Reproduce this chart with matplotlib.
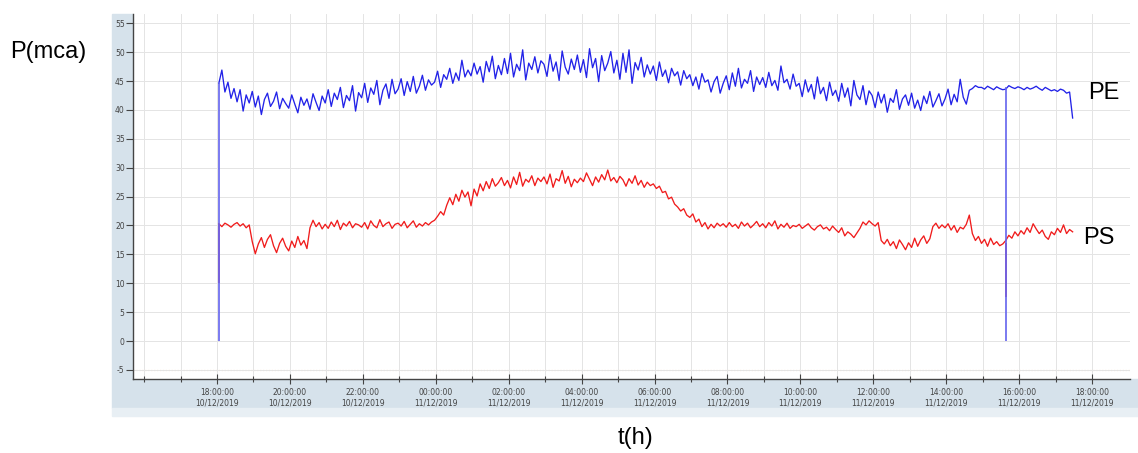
import pandas as pd
import matplotlib.pyplot as plt
import matplotlib.dates as mdates
from matplotlib.patches import Rectangle

plt.rcParams["axes.unicode_minus"] = False

# samples every 5 min from 18:03 on 10/12/2019
start = "2019-12-10 18:03"
step = "5min"

pe = [44.6, 46.9, 43.1, 44.8, 42.0, 43.7, 41.4, 43.5, 39.8, 42.6, 41.2,
      43.2, 40.5, 42.4, 39.2, 41.8, 42.9, 40.6, 41.5, 43.1, 40.2, 42.0, 41.1,
      40.3, 42.6, 41.0, 39.5, 42.2, 40.8, 41.9, 40.1, 42.8, 41.3, 39.9, 42.4,
      41.2, 43.5, 40.6, 42.9, 41.8, 43.9, 40.4, 42.5, 41.6, 44.2, 39.8, 43.0,
      42.1, 44.6, 41.3, 43.8, 42.7, 45.1, 40.9, 43.4, 44.5, 42.0, 45.3, 42.8,
      43.6, 45.4, 42.5, 44.9, 43.2, 45.8, 42.9, 44.1, 46.0, 43.4, 45.2, 44.3,
      44.8, 46.7, 43.9, 46.1, 45.3, 47.2, 44.6, 46.4, 45.1, 48.6, 45.7, 46.9,
      45.9, 48.1, 46.2, 47.5, 44.8, 48.4, 46.6, 49.3, 45.4, 47.7, 46.1, 48.9,
      46.3, 49.8, 45.7, 47.9, 46.8, 50.4, 45.2, 48.1, 47.0, 49.2, 46.4, 48.5,
      47.9, 45.8, 49.6, 46.7, 48.3, 45.1, 50.2, 47.4, 46.2, 48.8, 47.0, 49.5,
      46.5, 48.7, 45.6, 50.6, 47.3, 48.9, 44.9, 49.4, 46.8, 48.1, 50.1, 46.4,
      48.6, 45.3, 49.8, 46.5, 50.4, 44.6, 48.2, 46.9, 49.1, 45.7, 47.8, 46.2,
      47.6, 45.1, 48.3, 45.8, 46.9, 44.7, 47.2, 45.9, 46.6, 44.3, 46.8, 45.4,
      46.1, 44.2, 45.7, 43.6, 46.3, 44.8, 45.2, 43.1, 44.9, 45.8, 42.9, 44.6,
      45.9, 43.5, 46.4, 44.1, 47.2, 43.8, 45.3, 44.6, 46.8, 43.2, 45.7, 44.4,
      45.6, 43.9, 46.5, 44.2, 45.1, 43.4, 47.6, 44.7, 45.3, 43.6, 46.2, 44.1,
      44.6, 42.3, 45.2, 43.1, 44.4, 41.9, 45.7, 42.8, 43.9, 41.6, 44.8, 42.5,
      43.4, 41.5, 44.6, 42.2, 43.8, 40.7, 45.1, 42.6, 41.8, 44.2, 40.9, 43.3,
      42.5, 40.4, 43.1, 41.2, 42.7, 39.6, 42.0, 41.3, 43.5, 40.1, 41.9, 42.6,
      40.8, 42.9, 40.3, 41.7, 39.9, 42.4, 41.1, 43.2, 40.5, 41.6, 42.8, 40.7,
      41.9, 43.6, 40.9, 42.7, 41.4, 45.3, 42.2, 41.0, 43.4, 43.7, 44.2, 43.9,
      43.9, 43.6, 44.1, 43.8, 43.5, 44.0, 43.7, 43.5, 43.6, 44.2, 43.9, 43.7,
      44.0, 43.8, 43.5, 43.9, 43.6, 43.8, 44.1, 43.7, 43.4, 43.9, 43.6, 43.3,
      43.5, 43.2, 43.6, 43.4, 42.9, 43.1, 38.6]

ps = [20.3, 19.8, 20.4, 20.1, 19.7, 20.2, 20.5, 19.9, 20.3, 19.6, 20.1,
      17.2, 15.1, 16.8, 17.9, 16.2, 17.6, 18.4, 16.5, 15.3, 16.9, 17.8, 16.4,
      15.6, 17.3, 16.2, 18.1, 16.6, 17.4, 16.0, 19.6, 20.9, 19.8, 20.5, 19.4,
      20.2, 19.5, 20.6, 19.8, 20.9, 19.3, 20.4, 19.9, 20.7, 19.6, 20.3, 20.1,
      19.7, 20.5, 19.4, 20.8, 20.0, 19.6, 21.0, 19.8, 20.3, 20.6, 19.5, 20.2,
      20.4, 19.9, 20.7, 19.6, 20.2, 20.8, 19.7, 20.3, 19.9, 20.5, 20.1, 20.6,
      20.9, 21.6, 22.4, 21.8, 23.5, 24.8, 23.6, 25.4, 24.2, 26.1, 24.9, 25.8,
      23.4, 26.3, 25.1, 27.2, 26.0, 27.6, 26.4, 28.1, 26.8, 27.4, 28.3, 26.9,
      27.8, 26.5, 28.4, 27.1, 29.2, 26.8, 28.0, 27.5, 28.6, 26.9, 28.2, 27.6,
      28.4, 27.2, 28.9, 26.6, 28.1, 27.7, 29.5, 27.3, 28.5, 26.7, 28.0, 27.4,
      28.2, 27.6, 29.1, 28.0, 26.9, 28.4, 27.5, 28.8, 27.9, 29.6, 27.7, 28.3,
      27.4, 28.5, 27.9, 26.8, 28.1, 27.3, 28.6, 27.0, 27.8, 26.6, 27.5, 26.9,
      27.2, 26.4, 26.8, 25.7, 25.9, 24.6, 24.9, 23.7, 23.2, 22.5, 22.9, 21.8,
      21.4, 22.0, 20.6, 21.1, 19.8, 20.5, 19.4, 20.2, 19.6, 20.4, 19.9, 20.3,
      19.7, 20.5, 19.8, 20.2, 19.5, 20.6, 19.9, 20.4, 19.6, 20.1, 20.7, 19.8,
      20.3, 19.6, 20.5, 19.9, 20.8, 19.4, 20.2, 19.7, 20.4, 19.5, 20.0, 19.8,
      20.2, 19.5, 19.9, 20.3, 19.6, 19.2, 19.8, 20.1, 19.4, 19.7, 19.1, 19.9,
      19.3, 18.8, 19.6, 18.2, 18.9, 18.5, 17.9, 18.7, 19.5, 20.6, 20.1, 20.8,
      20.3, 19.9, 20.5, 17.4, 16.8, 17.6, 16.5, 17.2, 16.0, 17.5, 16.7, 15.8,
      17.0, 16.2, 17.8, 16.4, 17.5, 18.2, 16.9, 17.7, 19.8, 20.4, 19.5, 20.1,
      19.6, 20.3, 19.2, 20.0, 18.8, 19.7, 19.4, 20.2, 21.8, 18.6, 17.4, 18.1,
      16.9, 17.6, 16.4, 17.8, 16.7, 17.2, 16.5, 16.8, 17.4, 18.3, 17.8, 18.9,
      18.2, 19.1, 18.5, 19.6, 18.8, 20.3, 19.4, 18.6, 19.2, 18.1, 17.6, 18.9,
      18.4, 19.5, 18.8, 20.1, 18.6, 19.3, 18.9]

# the logger switch-on and the short outage in the afternoon
events = ["2019-12-10 18:03", "2019-12-11 15:38"]
pe_low = [0.0, 0.0]
ps_low = [10.0, 7.7]
pe_high = [44.6, 44.0]
ps_high = [20.3, 17.0]

times = pd.date_range(start, periods=len(pe), freq=step)
ev = pd.to_datetime(events)

W, H = 1138, 453
fig = plt.figure(figsize=(W / 100, H / 100), dpi=100)

# light blue axis panels of the logger software
panel = "#d6e2eb"
fig.add_artist(Rectangle((112 / W, 1 - 408 / H), (W - 112) / W, 29 / H,
                         transform=fig.transFigure, color=panel, zorder=0))
fig.add_artist(Rectangle((112 / W, 1 - 416 / H), (W - 112) / W, 8 / H,
                         transform=fig.transFigure, color="#e8eff4", zorder=0))
fig.add_artist(Rectangle((112 / W, 1 - 379 / H), 21 / W, 365 / H,
                         transform=fig.transFigure, color=panel, zorder=0))

ax = fig.add_axes([133 / W, 1 - 379 / H, (1130 - 133) / W, (379 - 14) / H])
ax.set_zorder(1)
ax.set_facecolor("white")

ax.plot(times, ps, color="#f01c1c", lw=0.95)
ax.vlines(ev, ps_low, ps_high, color="#c0306a", lw=1.2)
ax.plot(times, pe, color="#2222e8", lw=0.95)
ax.vlines(ev, pe_low, pe_high, color="#6464ee", lw=1.2)

x0 = pd.Timestamp("2019-12-10 18:00")
ax.set_xlim(x0 - pd.Timedelta(hours=2.304), x0 + pd.Timedelta(hours=25.04))
ax.set_ylim(-6.57, 56.6)

ax.set_xticks(pd.date_range(x0, periods=13, freq="2h"))
ax.set_xticks(pd.date_range(x0 - pd.Timedelta(hours=2), periods=27, freq="1h"), minor=True)
ax.xaxis.set_major_formatter(mdates.DateFormatter("%H:%M:%S\n%d/%m/%Y"))
ax.set_yticks(range(-5, 56, 5))

ax.grid(True, which="major", color="#e4e4e4", lw=0.7)
ax.grid(True, which="minor", axis="x", color="#e4e4e4", lw=0.7)
ax.axhline(-5, color="#f2b27a", ls=":", lw=0.8, zorder=0)

for s in ["top", "right"]:
    ax.spines[s].set_visible(False)
for s in ["left", "bottom"]:
    ax.spines[s].set_color("#444444")
    ax.spines[s].set_linewidth(1.0)

ax.tick_params(axis="y", direction="out", length=5, width=0.8, pad=1,
               labelsize=5.5, colors="#444444")
ax.tick_params(axis="x", which="major", direction="inout", length=7, width=0.8,
               pad=3, labelsize=5.5, colors="#444444")
ax.tick_params(axis="x", which="minor", direction="inout", length=4, width=0.8,
               colors="#444444")

font = "Liberation Sans"
fig.text(10 / W, 1 - 52 / H, "P(mca)", fontsize=17, family=font, va="center", ha="left")
fig.text(1088 / W, 1 - 93 / H, "PE", fontsize=17, family=font, va="center", ha="left")
fig.text(1083 / W, 1 - 238 / H, "PS", fontsize=17, family=font, va="center", ha="left")
fig.text(636 / W, 1 - 438 / H, "t(h)", fontsize=17, family=font, va="center", ha="center")

fig.savefig("out.png", dpi=100)
